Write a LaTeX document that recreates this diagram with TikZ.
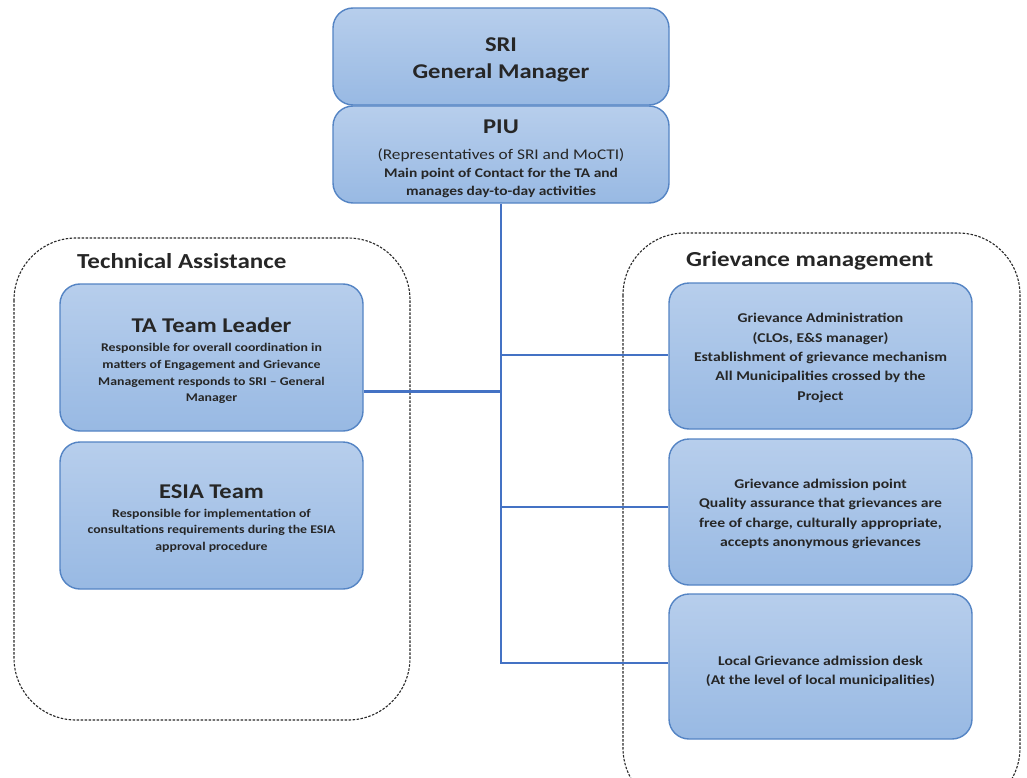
\documentclass[tikz,border=0pt]{standalone}
\usepackage{fontspec}
\setmainfont{Carlito}[FakeStretch=1.17]
\definecolor{boxtop}{RGB}{183,206,236}
\definecolor{boxbot}{RGB}{152,185,227}
\definecolor{boxline}{RGB}{84,132,196}
\definecolor{linkc}{RGB}{68,114,196}
\definecolor{dashc}{RGB}{40,40,40}
\newcommand{\ttl}{\bfseries\fontsize{21}{27}\selectfont}
\newcommand{\smb}{\bfseries\fontsize{11.8}{16.8}\selectfont}
\newcommand{\grb}{\bfseries\fontsize{13.4}{19.4}\selectfont}
\newcommand{\piub}{\bfseries\fontsize{13.2}{18}\selectfont}
\tikzset{
  box/.style={draw=boxline, line width=1.4pt, rounded corners=20pt, top color=boxtop, bottom color=boxbot,
    inner sep=0pt},
  boxtext/.style={align=center, inner sep=0pt, text=black!85},
  group/.style={draw=dashc, dash pattern=on 2.5pt off 1.5pt, line width=1.1pt, rounded corners=62pt},
  link/.style={draw=linkc, line width=2.4pt},
  grouplabel/.style={font=\bfseries\fontsize{21.4}{24}\selectfont, anchor=west, inner sep=0pt, text=black!85},
}
\begin{document}
\begin{tikzpicture}[x=1pt,y=-1pt]
\useasboundingbox (0,0) rectangle (1027,778);
\fill[white] (0,0) rectangle (1027,778);
% groups
\draw[group] (14,238) rectangle (410,720);
\begin{scope}
\clip (0,0) rectangle (1027,778);
\draw[group] (623,233) rectangle (1020,810);
\end{scope}
\node[grouplabel] (talbl) at (77,261) {Technical Assistance};
\node[grouplabel] (gmlbl) at (686,261) {Grievance management};
% boxes
\node[box, minimum width=336pt, minimum height=97pt] (sri) at (501,56.5) {};
\node[box, minimum width=336pt, minimum height=97pt] (piu) at (501,154.5) {};
\node[box, minimum width=303pt, minimum height=147pt] (tal) at (211.5,357.5) {};
\node[box, minimum width=303pt, minimum height=147pt] (esia) at (211.5,515.5) {};
\node[box, minimum width=303pt, minimum height=146pt] (gadm) at (820.5,356) {};
\node[box, minimum width=303pt, minimum height=146pt] (gpt) at (820.5,512) {};
\node[box, minimum width=303pt, minimum height=145pt] (gdesk) at (820.5,666.5) {};
% texts
\node[boxtext, font=\ttl] (srit) at ([yshift=-3pt]sri.center) {SRI\\General Manager};
\node[boxtext, font=\piub] (piut) at ([yshift=-4pt]piu.center)
  {{\ttl PIU}\\[8pt]{\mdseries\fontsize{14.8}{18}\selectfont (Representatives of SRI and MoCTI)}\\
   Main point of Contact for the TA and\\manages day-to-day activities};
\node[boxtext, font=\smb] (talt) at ([yshift=-3.5pt]tal.center)
  {{\ttl TA Team Leader}\\[2pt]
   Responsible for overall coordination in\\matters of Engagement and Grievance\\
   Management responds to SRI -- General\\Manager};
\node[boxtext, font=\smb] (esiat) at ([yshift=-3pt]esia.center)
  {{\ttl ESIA Team}\\[2pt]
   Responsible for implementation of\\consultations requirements during the ESIA\\
   approval procedure};
\node[boxtext, font=\grb] (gadmt) at ([yshift=-2pt]gadm.center)
  {Grievance Administration\\(CLOs, E\&S manager)\\Establishment of grievance mechanism\\
   All Municipalities crossed by the\\Project};
\node[boxtext, font=\grb] (gptt) at ([yshift=-2pt]gpt.center)
  {Grievance admission point\\Quality assurance that grievances are\\
   free of charge, culturally appropriate,\\accepts anonymous grievances};
\node[boxtext, font=\grb] (gdeskt) at ([yshift=-5pt]gdesk.center)
  {Local Grievance admission desk\\(At the level of local municipalities)};
% connectors
\coordinate (j1) at ([yshift=1pt]gadm.west -| piu.south);
\coordinate (j2) at ([yshift=5pt]gpt.west -| piu.south);
\coordinate (j3) at ([yshift=3.5pt]gdesk.west -| piu.south);
\coordinate (jt) at ([yshift=-34pt]tal.east -| piu.south);
\draw[link] (piu.south) -- (j3) -- ([yshift=3.5pt]gdesk.west);
\draw[link] (j1) -- ([yshift=1pt]gadm.west);
\draw[link] (j2) -- ([yshift=5pt]gpt.west);
\draw[link] ([yshift=-34pt]tal.east) -- (jt);
\end{tikzpicture}
\end{document}
